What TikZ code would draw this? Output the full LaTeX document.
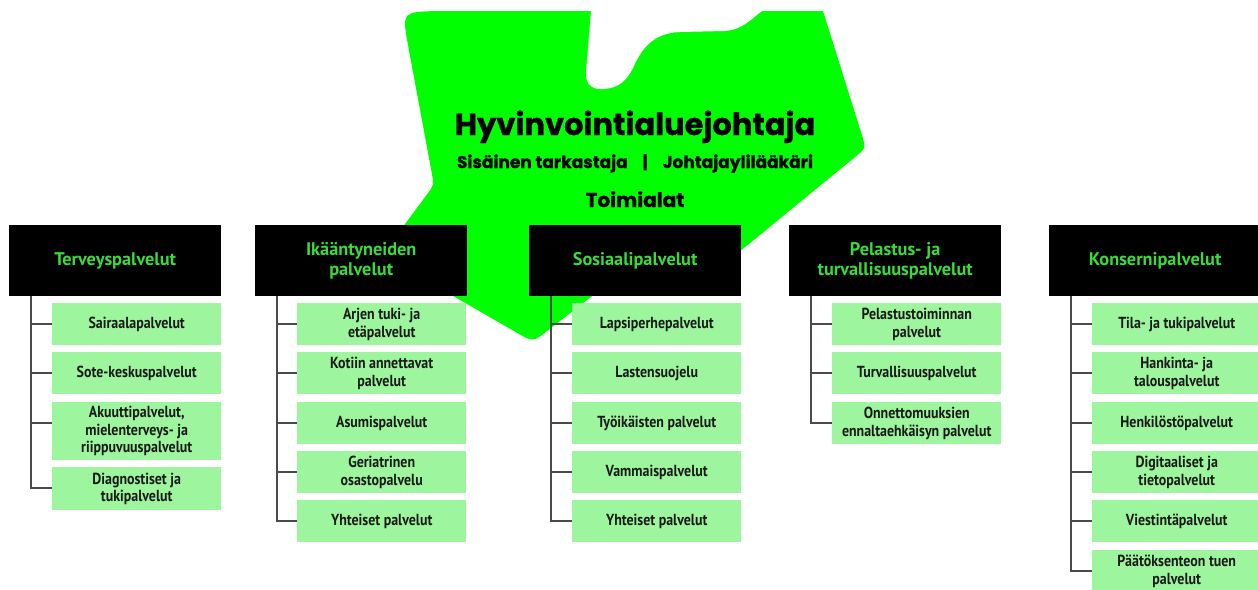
\documentclass[tikz,border=0pt]{standalone}
\usepackage{fontspec}
\setmainfont{PT Sans}
\newfontfamily\boxfont[FakeStretch=0.87]{PT Sans}
\newfontfamily\titlefont{Poppins}[BoldFeatures={FakeBold=0.8}]
\usetikzlibrary{calc}
\definecolor{blobgreen}{HTML}{00FF00}
\definecolor{subgreen}{HTML}{9DF59D}
\definecolor{headgreen}{HTML}{3ADB3A}
\definecolor{linegray}{HTML}{4A4A4A}
\definecolor{textdark}{HTML}{1A1A1A}
\begin{document}
\begin{tikzpicture}[x=1pt,y=-1pt,
  headbox/.style={fill=black, text=headgreen, font=\bfseries\fontsize{18.3}{20.5}\selectfont,
    align=center, minimum width=212pt, minimum height=71pt, inner sep=0pt, anchor=north west},
  subbox/.style={fill=subgreen, text=textdark, font=\boxfont\bfseries\fontsize{16}{17.5}\selectfont,
    align=center, minimum width=169pt, minimum height=42pt, inner sep=0pt, anchor=north west},
  conn/.style={draw=linegray, line width=1.3pt},
  titletext/.style={font=\titlefont\bfseries\fontsize{30.5}{34}\selectfont, anchor=base, inner sep=0pt},
  subtitletext/.style={font=\titlefont\bfseries\fontsize{17}{20}\selectfont, anchor=base, inner sep=0pt},
  sectiontext/.style={font=\titlefont\bfseries\fontsize{20}{24}\selectfont, anchor=base, inner sep=0pt}]
\useasboundingbox (0,0) rectangle (1258,589);
\fill[white] (0,0) rectangle (1258,589);
% green blob
\fill[blobgreen] (437,11) -- (823,11)
  -- ($(866,148)!14pt!(823,11)$) .. controls (866,148) .. ($(866,148)!14pt!(722,266)$)
  -- (722,266) -- (600,290)
  -- ($(533,342)!18pt!(600,290)$) .. controls (533,342) .. ($(533,342)!18pt!(382,255)$)
  -- (382,255)
  -- ($(434,185)!12pt!(382,255)$) .. controls (434,185) .. ($(434,185)!12pt!(408,45)$)
  -- (408,45) .. controls (402,12) .. (437,11) -- cycle;
% notch
\fill[white] (591,5) -- (591,11) -- (586,72) .. controls (585,86) and (594,90) .. (604,89)
  .. controls (619,88) and (627,80) .. (633,68)
  .. controls (641,50) and (652,33) .. (680,32) -- (724,31)
  .. controls (742,30) and (750,20) .. (762,11) -- (762,5) -- cycle;
% titles
\node[titletext] (title) at (635,135) {Hyvinvointialuejohtaja};
\node[subtitletext] (subtitle) at (635,168) {Sisäinen tarkastaja\hspace{15pt}|\hspace{15pt}Johtajaylilääkäri};
\node[sectiontext] (toimialat) at (635,207) {Toimialat};
% headers
\node[headbox] (h1) at (9,225) {Terveyspalvelut};
\node[headbox] (h2) at (255,225) {Ikääntyneiden\\palvelut};
\node[headbox] (h3) at (529,225) {Sosiaalipalvelut};
\node[headbox] (h4) at (789,225) {Pelastus- ja\\turvallisuuspalvelut};
\node[headbox] (h5) at (1049,225) {Konsernipalvelut};
% column 1
\node[subbox] (s11) at (52,303) {Sairaalapalvelut};
\node[subbox] (s12) at (52,352) {Sote-keskuspalvelut};
\node[subbox, minimum height=58pt] (s13) at (52,402) {Akuuttipalvelut,\\mielenterveys- ja\\riippuvuuspalvelut};
\node[subbox, minimum height=43pt] (s14) at (52,467) {Diagnostiset ja\\tukipalvelut};
% column 2
\node[subbox] (s21) at (297,303) {Arjen tuki- ja\\etäpalvelut};
\node[subbox] (s22) at (297,352) {Kotiin annettavat\\palvelut};
\node[subbox] (s23) at (297,402) {Asumispalvelut};
\node[subbox] (s24) at (297,451) {Geriatrinen\\osastopalvelu};
\node[subbox] (s25) at (297,500) {Yhteiset palvelut};
% column 3
\node[subbox] (s31) at (572,303) {Lapsiperhepalvelut};
\node[subbox] (s32) at (572,352) {Lastensuojelu};
\node[subbox] (s33) at (572,402) {Työikäisten palvelut};
\node[subbox] (s34) at (572,451) {Vammaispalvelut};
\node[subbox] (s35) at (572,500) {Yhteiset palvelut};
% column 4
\node[subbox] (s41) at (832,303) {Pelastustoiminnan\\palvelut};
\node[subbox] (s42) at (832,352) {Turvallisuuspalvelut};
\node[subbox] (s43) at (832,402) {Onnettomuuksien\\ennaltaehkäisyn palvelut};
% column 5
\node[subbox] (s51) at (1092,303) {Tila- ja tukipalvelut};
\node[subbox] (s52) at (1092,352) {Hankinta- ja\\talouspalvelut};
\node[subbox] (s53) at (1092,402) {Henkilöstöpalvelut};
\node[subbox] (s54) at (1092,451) {Digitaaliset ja\\tietopalvelut};
\node[subbox] (s55) at (1092,500) {Viestintäpalvelut};
\node[subbox] (s56) at (1092,550) {Päätöksenteon tuen\\palvelut};
% connectors
\foreach \c/\num in {1/4, 2/5, 3/5, 4/3, 5/6} {
  \coordinate (v\c) at ([xshift=22pt]h\c.south west);
  \foreach \i in {1,...,\num} {
    \coordinate (p\c\i) at ([yshift=-21pt]s\c\i.north west);
    \draw[conn] (v\c |- p\c\i) -- (p\c\i);
  }
  \draw[conn] (v\c) |- (p\c\num);
}
\end{tikzpicture}
\end{document}
